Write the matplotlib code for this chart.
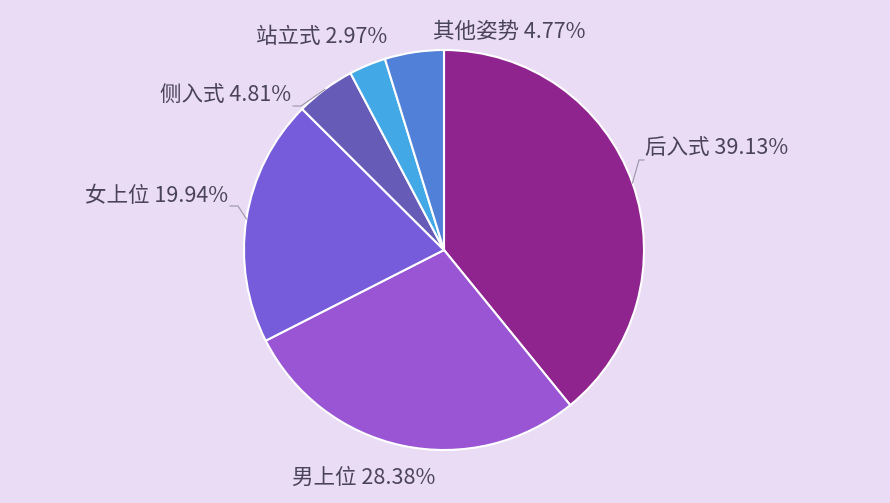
import numpy as np
import matplotlib.pyplot as plt

plt.rcParams['font.family'] = ['Noto Sans CJK SC', 'DejaVu Sans']

labels = ["后入式", "男上位", "女上位", "侧入式", "站立式", "其他姿势"]
shares = [39.13, 28.38, 19.94, 4.81, 2.97, 4.77]
colors = ["#8F248E", "#9955D4", "#765BDA", "#675BB8", "#42A8E6", "#5080D8"]

# label text anchor (x, y in pie-radius units), horizontal alignment, draw leader line
label_pos = [
    ((1.005, 0.51), "left", True),
    ((-0.40, -1.14), "center", False),
    ((-1.08, 0.27), "right", True),
    ((-0.765, 0.77), "right", True),
    ((-0.61, 1.065), "center", False),
    ((0.325, 1.09), "center", False),
]

bg = "#EADCF5"
fig = plt.figure(figsize=(8.9, 5.03), dpi=100)
fig.patch.set_facecolor(bg)

W, H = 890, 503
cx, cy, r = 444, 250, 200
ax = fig.add_axes([(cx - r) / W, (H - cy - r) / H, 2 * r / W, 2 * r / H])
ax.set_facecolor(bg)

wedges, _ = ax.pie(shares, colors=colors, startangle=90, counterclock=False,
                   radius=1, wedgeprops=dict(edgecolor="white", linewidth=1.5))
ax.set_xlim(-1, 1)
ax.set_ylim(-1, 1)
ax.set_aspect("equal")
ax.axis("off")

cum = np.cumsum([0] + shares[:-1])
for lab, val, c0, (pos, ha, line) in zip(labels, shares, cum, label_pos):
    mid = np.deg2rad((c0 + val / 2) / 100 * 360)
    ex, ey = np.sin(mid), np.cos(mid)
    tx, ty = pos
    ax.text(tx, ty, f"{lab} {val:.2f}%", ha=ha, va="center", fontsize=15.5,
            color="#4A4458", clip_on=False)
    if line:
        if ha == "left":
            bx = tx - 0.03
            ax.plot([ex, bx, tx - 0.005], [ey, ty - 0.06, ty - 0.06],
                    color="#9A95A6", lw=0.8, clip_on=False)
        else:
            bx = tx + 0.05
            ax.plot([ex, bx, tx + 0.01], [ey, ty - 0.05, ty - 0.05],
                    color="#9A95A6", lw=0.8, clip_on=False)

fig.savefig("out.png", dpi=100, facecolor=bg)
